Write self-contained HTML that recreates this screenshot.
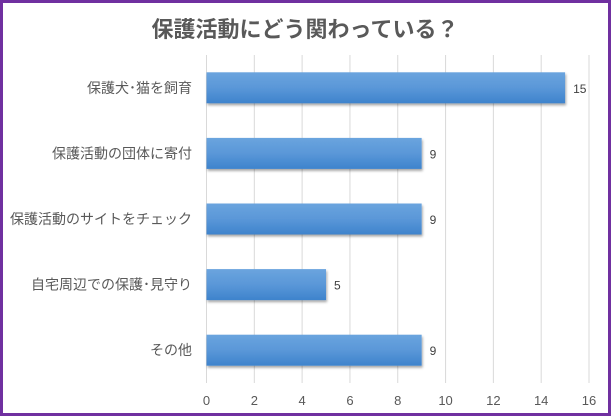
<!DOCTYPE html>
<html><head><meta charset="utf-8"><style>
html,body{margin:0;padding:0;background:#fff}
#c{position:relative;width:611px;height:416px;box-sizing:border-box;border:3px solid #7030a0;background:#fff;overflow:hidden}
svg text{font-family:"Liberation Sans","Noto Sans CJK JP",sans-serif}
</style></head><body>
<div id="c">
<svg id="s" width="605" height="410" viewBox="3 3 605 410">
<defs>
<linearGradient id="g" x1="0" y1="0" x2="0" y2="1">
<stop offset="0" stop-color="#6aa4de"/><stop offset="0.5" stop-color="#5a97d8"/><stop offset="1" stop-color="#3e83cc"/>
</linearGradient>
<filter id="sh" x="-5%" y="-20%" width="110%" height="150%"><feDropShadow dx="1" dy="2" stdDeviation="1.2" flood-color="#000" flood-opacity="0.35"/></filter>
</defs>
<text x="305" y="37" text-anchor="middle" font-size="22" font-weight="bold" fill="#595959">保護活動にどう関わっている？</text>
</svg>
</div>
<script>
const categories=["保護犬･猫を飼育","保護活動の団体に寄付","保護活動のサイトをチェック","自宅周辺での保護･見守り","その他"];
const values=[15,9,9,5,9];
const tickValues=[0,2,4,6,8,10,12,14,16];
const ns="http://www.w3.org/2000/svg";
const svg=document.getElementById('s');
const x0=206.5,x1=589,xmax=16,plotTop=55,plotBottom=383;
const band=(plotBottom-plotTop)/categories.length;
const xs=v=>x0+(x1-x0)*v/xmax;
const yc=i=>plotTop+band*(i+0.5);
function mk(t,a){const e=document.createElementNS(ns,t);for(const k in a)e.setAttribute(k,a[k]);svg.appendChild(e);return e;}
tickValues.forEach(t=>{
 const l=mk('line',{x1:xs(t),x2:xs(t),y1:plotTop,y2:plotBottom,stroke:'#d9d9d9','stroke-width':1});
 
 
 const tx=mk('text',{x:xs(t),y:405,'text-anchor':'middle','font-size':13,fill:'#595959'});
 tx.textContent=t;
 
 
});
categories.forEach((c,i)=>{
 const y=yc(i);
 const r=mk('rect',{x:x0,y:y-15.5,width:xs(values[i])-x0,height:31,fill:'url(#g)',filter:'url(#sh)'});
 
 
 const lb=mk('text',{x:192,y:y+5,'text-anchor':'end','font-size':14,fill:'#595959'});
 lb.textContent=c;
 
 
 const v=mk('text',{x:xs(values[i])+8,y:y+5,'font-size':12,fill:'#404040'});
 v.textContent=values[i];
 
 
});
</script>
</body></html>
